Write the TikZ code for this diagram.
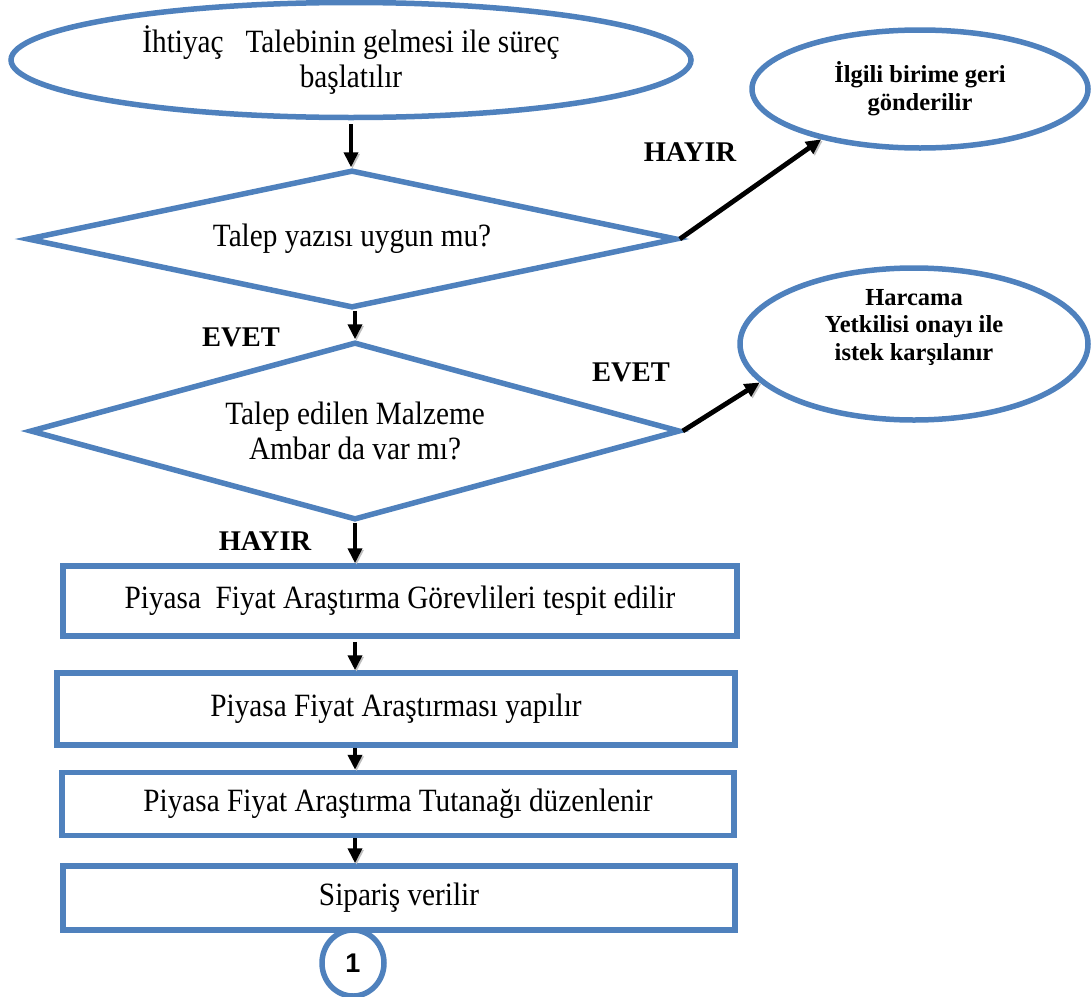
\documentclass[tikz,border=0pt]{standalone}
\usepackage{fontspec}
\setmainfont{Liberation Serif}[FakeStretch=0.9]
\newfontfamily\boldserif{Liberation Serif}
\newfontfamily\numfont{Liberation Sans}
\usetikzlibrary{shapes.geometric, arrows.meta, positioning, calc}
\definecolor{flowblue}{RGB}{79,129,189}

\begin{document}
\begin{tikzpicture}[x=1pt, y=-1pt,
  box/.style={draw=flowblue, line width=5.5pt, rectangle, inner sep=0pt, font=\fontsize{32.5}{35}\selectfont},
  oval/.style={draw=flowblue, line width=5.5pt, ellipse, inner sep=0pt, align=center},
  test/.style={draw=flowblue, line width=5.5pt, diamond, aspect=4.7, inner sep=0pt, align=center, font=\fontsize{32.5}{35}\selectfont},
  go/.style={-{Triangle[length=15pt,width=14pt]}, line width=4.8pt, black,
    preaction={draw=black!25, transform canvas={shift={(1.5pt,-1.5pt)}}}},
  ans/.style={font=\boldserif\fontsize{28.5}{30}\selectfont\bfseries}]
\useasboundingbox (0,0) rectangle (1091,996);

\node (start) at (351,60) [oval, minimum width=680pt, minimum height=115pt, font=\fontsize{32.5}{35}\selectfont] {İhtiyaç\ \ \ Talebinin gelmesi ile süreç\\ başlatılır};
\node (back) at (920,89) [oval, minimum width=336pt, minimum height=118pt, font=\boldserif\fontsize{24.5}{28}\selectfont\bfseries] {İlgili birime geri\\ gönderilir};
\node (d1) at (352,239) [test, minimum width=650pt, minimum height=138pt] {Talep yazısı uygun mu?};
\node (d2) at (355,431) [test, minimum width=650pt, minimum height=178pt] {Talep edilen Malzeme\\ Ambar da var mı?};
\node (ok) at (914,344) [oval, minimum width=348pt, minimum height=152pt,
  label={[yshift=17pt, align=center, font=\boldserif\fontsize{24.5}{27.5}\selectfont\bfseries]center:Harcama\\ Yetkilisi onayı ile\\ istek karşılanır}] {};
\node (r1) at (400,601) [box, minimum width=674pt, minimum height=70pt] {Piyasa\ \ Fiyat Araştırma Görevlileri tespit edilir};
\node (r2) at (396,709) [box, minimum width=678pt, minimum height=72pt] {Piyasa Fiyat Araştırması yapılır};
\node (r3) at (398,804) [box, minimum width=672pt, minimum height=63pt] {Piyasa Fiyat Araştırma Tutanağı düzenlenir};
\node (r4) at (399,898) [box, minimum width=672pt, minimum height=64pt] {Sipariş verilir};
\node (conn) at (353,963) [oval, minimum width=62pt, minimum height=66pt, font=\numfont\bfseries\fontsize{27}{27}\selectfont] {1};

\node (no1) at (690,152) [ans] {HAYIR};
\node (yes1) at (241,337) [ans] {EVET};
\node (yes2) at (631,372) [ans] {EVET};
\node (no2) at (265,541) [ans] {HAYIR};

\draw [go, shorten <=4pt] (start.south) -- (start.south |- d1.north);
\draw [go] (d1.east) -- (back.207);
\draw [go] (d2.north |- d1.south) -- (d2.north);
\draw [go] (d2.east) -- (ok.194);
\draw [go] (d2.south) -- (d2.south |- r1.north);
\draw [go, shorten <=3pt] (d2.south |- r1.south) -- (d2.south |- r2.north);
\draw [go] (d2.south |- r2.south) -- (d2.south |- r3.north);
\draw [go] (d2.south |- r3.south) -- (d2.south |- r4.north);
\end{tikzpicture}
\end{document}
